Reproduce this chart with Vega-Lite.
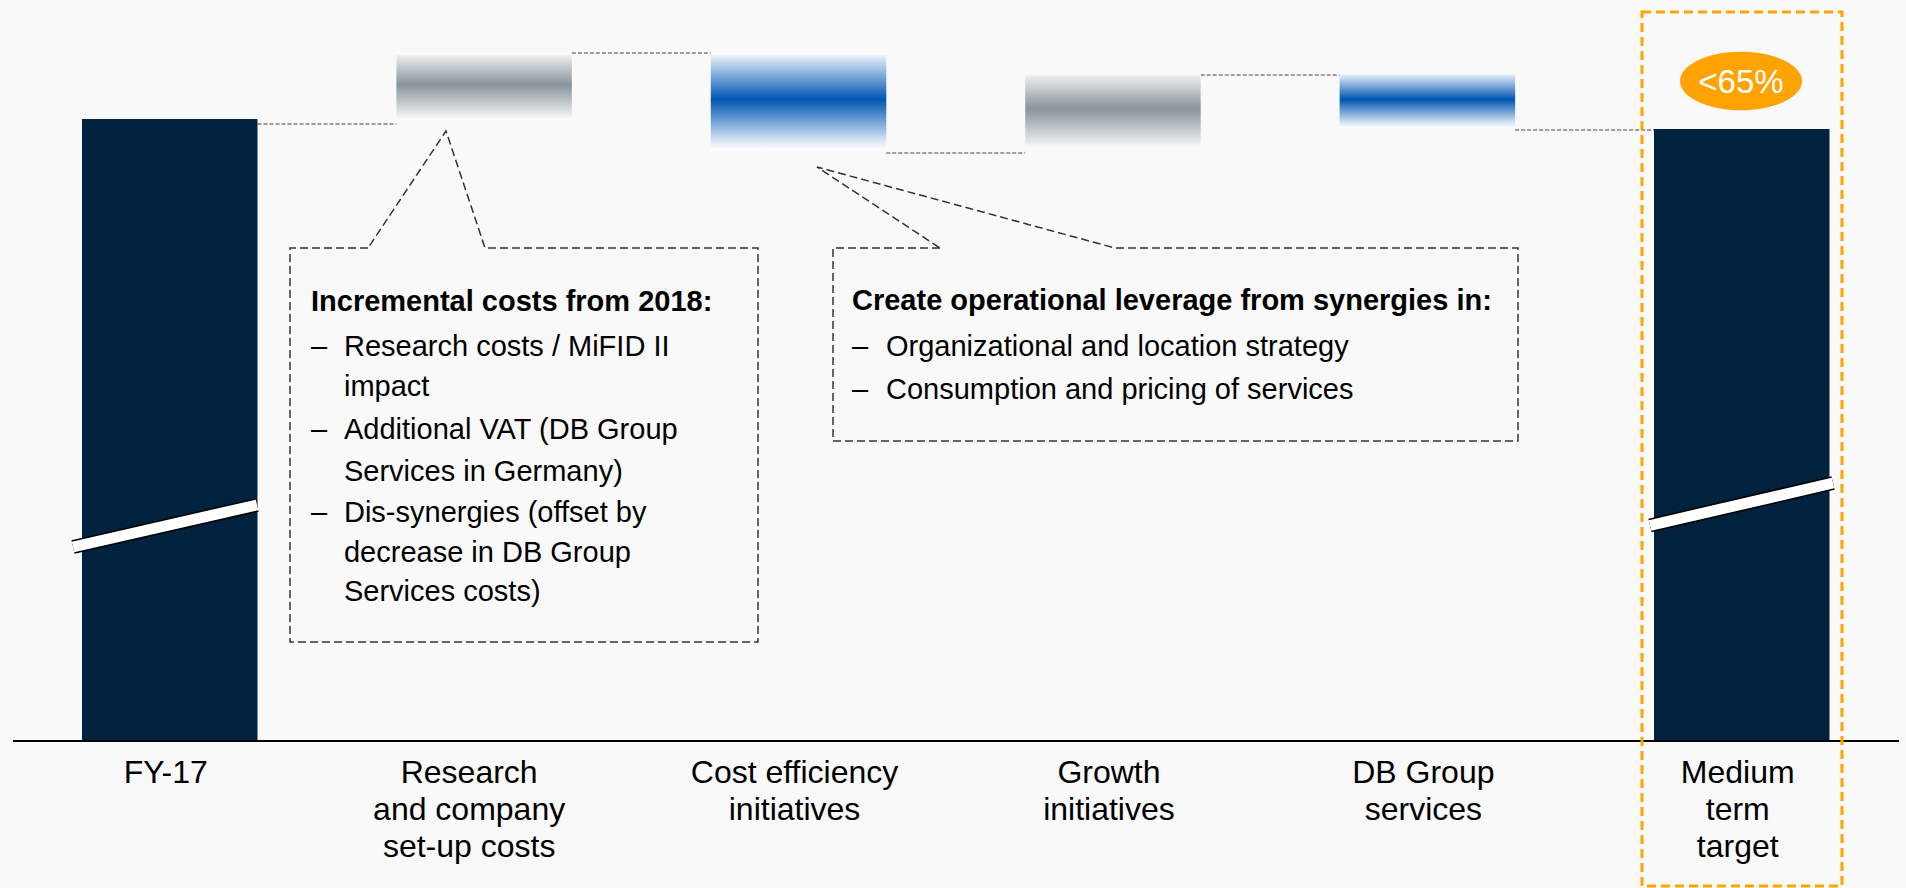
{
  "$schema": "https://vega.github.io/schema/vega-lite/v6.json",
  "width": 1906,
  "height": 741,
  "autosize": {"type": "none"},
  "padding": {"left": 0, "top": 0, "right": 0, "bottom": 147},
  "background": "#f9f9f9",
  "config": {"view": {"stroke": null}, "font": "Liberation Sans"},
  "datasets": {
    "bars": [
      {"category": "FY-17", "start": 0, "end": 622, "kind": "total"},
      {"category": "Research\nand company\nset-up costs", "start": 621, "end": 688, "kind": "gray"},
      {"category": "Cost efficiency\ninitiatives", "start": 688, "end": 591, "kind": "blue"},
      {"category": "Growth\ninitiatives", "start": 592, "end": 668, "kind": "gray"},
      {"category": "DB Group\nservices", "start": 668, "end": 613, "kind": "blue"},
      {"category": "Medium\nterm\ntarget", "start": 0, "end": 612, "kind": "total"}
    ],
    "connectors": [
      {"from": "FY-17", "to": "Research\nand company\nset-up costs", "level": 617},
      {"from": "Research\nand company\nset-up costs", "to": "Cost efficiency\ninitiatives", "level": 688},
      {"from": "Cost efficiency\ninitiatives", "to": "Growth\ninitiatives", "level": 588},
      {"from": "Growth\ninitiatives", "to": "DB Group\nservices", "level": 666},
      {"from": "DB Group\nservices", "to": "Medium\nterm\ntarget", "level": 611}
    ],
    "baseline": [
      {"u1": -0.4978, "u2": 5.501, "v": 0}
    ],
    "callouts": [
      {"box": 1, "i": 0, "u": 0.6314, "v": 493},
      {"box": 1, "i": 1, "u": 0.3833, "v": 493},
      {"box": 1, "i": 2, "u": 0.3833, "v": 99},
      {"box": 1, "i": 3, "u": 1.8718, "v": 99},
      {"box": 1, "i": 4, "u": 1.8718, "v": 493},
      {"box": 1, "i": 5, "u": 1.0035, "v": 493},
      {"box": 1, "i": 6, "u": 0.8795, "v": 610},
      {"box": 1, "i": 7, "u": 0.6314, "v": 493},
      {"box": 2, "i": 0, "u": 2.4507, "v": 493},
      {"box": 2, "i": 1, "u": 2.1104, "v": 493},
      {"box": 2, "i": 2, "u": 2.1104, "v": 300},
      {"box": 2, "i": 3, "u": 4.2891, "v": 300},
      {"box": 2, "i": 4, "u": 4.2891, "v": 493},
      {"box": 2, "i": 5, "u": 3.0073, "v": 493},
      {"box": 2, "i": 6, "u": 2.0595, "v": 574},
      {"box": 2, "i": 7, "u": 2.4507, "v": 493}
    ],
    "breaks": [
      {"bar": "FY-17", "u": -0.3069, "v": 194},
      {"bar": "FY-17", "u": 0.2783, "v": 236},
      {"bar": "Medium", "u": 4.709, "v": 215.5},
      {"bar": "Medium", "u": 5.291, "v": 258}
    ],
    "notes": [
      {"role": "header", "u": 0.45, "v": 439, "text": "Incremental costs from 2018:"},
      {"role": "body", "u": 0.45, "v": 394, "text": "–"},
      {"role": "body", "u": 0.555, "v": 394, "text": "Research costs / MiFID II"},
      {"role": "body", "u": 0.555, "v": 354, "text": "impact"},
      {"role": "body", "u": 0.45, "v": 311, "text": "–"},
      {"role": "body", "u": 0.555, "v": 311, "text": "Additional VAT (DB Group"},
      {"role": "body", "u": 0.555, "v": 269, "text": "Services in Germany)"},
      {"role": "body", "u": 0.45, "v": 228, "text": "–"},
      {"role": "body", "u": 0.555, "v": 228, "text": "Dis-synergies (offset by"},
      {"role": "body", "u": 0.555, "v": 188, "text": "decrease in DB Group"},
      {"role": "body", "u": 0.555, "v": 149, "text": "Services costs)"},
      {"role": "header", "u": 2.1708, "v": 440, "text": "Create operational leverage from synergies in:"},
      {"role": "body", "u": 2.1708, "v": 394, "text": "–"},
      {"role": "body", "u": 2.279, "v": 394, "text": "Organizational and location strategy"},
      {"role": "body", "u": 2.1708, "v": 351, "text": "–"},
      {"role": "body", "u": 2.279, "v": 351, "text": "Consumption and pricing of services"}
    ],
    "target": [
      {"u1": 4.6835, "u2": 5.3196, "v1": 729, "v2": -145, "uc": 4.9984, "vc": 660, "label": "<65%"}
    ]
  },
  "resolve": {"scale": {"x": "independent"}},
  "layer": [
    {
      "layer": [
        {
          "data": {"name": "connectors"},
          "mark": {"type": "rule", "stroke": "#444444", "strokeWidth": 1.2, "strokeDash": [4, 2]},
          "encoding": {
            "x": {"field": "from", "type": "nominal", "bandPosition": 1},
            "x2": {"field": "to", "bandPosition": 0},
            "y": {"field": "level", "type": "quantitative", "scale": {"domain": [0, 741], "nice": false, "zero": false}, "axis": null}
          }
        },
        {
          "data": {"name": "bars"},
          "transform": [{"filter": "datum.kind == 'total'"}],
          "mark": {"type": "bar", "color": "#00223F"},
          "encoding": {
            "x": {"field": "category", "type": "nominal"},
            "y": {"field": "start", "type": "quantitative", "scale": {"domain": [0, 741], "nice": false, "zero": false}, "axis": null},
            "y2": {"field": "end"}
          }
        },
        {
          "data": {"name": "bars"},
          "transform": [{"filter": "datum.kind == 'gray'"}],
          "mark": {"type": "bar", "color": {"gradient": "linear", "x1": 0, "y1": 0, "x2": 0, "y2": 1, "stops": [
            {"offset": 0, "color": "#ffffff"},
            {"offset": 0.06, "color": "#e6e9eb"},
            {"offset": 0.47, "color": "#89949b"},
            {"offset": 0.9, "color": "#e4e7e9"},
            {"offset": 1, "color": "#ffffff"}]}},
          "encoding": {
            "x": {"field": "category", "type": "nominal"},
            "y": {"field": "start", "type": "quantitative"},
            "y2": {"field": "end"}
          }
        },
        {
          "data": {"name": "bars"},
          "transform": [{"filter": "datum.kind == 'blue'"}],
          "mark": {"type": "bar", "color": {"gradient": "linear", "x1": 0, "y1": 0, "x2": 0, "y2": 1, "stops": [
            {"offset": 0, "color": "#ffffff"},
            {"offset": 0.06, "color": "#d6e4f4"},
            {"offset": 0.48, "color": "#0055b3"},
            {"offset": 0.9, "color": "#d6e4f4"},
            {"offset": 1, "color": "#ffffff"}]}},
          "encoding": {
            "x": {
              "field": "category", "type": "nominal",
              "scale": {
                "domain": ["FY-17", "Research\nand company\nset-up costs", "Cost efficiency\ninitiatives", "Growth\ninitiatives", "DB Group\nservices", "Medium\nterm\ntarget"],
                "range": [0, 1911.5], "paddingInner": 0.4418, "paddingOuter": 0.2608
              },
              "axis": {
                "title": null, "orient": "bottom", "domain": false,
                "ticks": false, "grid": false, "labelAngle": 0, "labelFont": "Liberation Sans",
                "labelFontSize": 32, "labelColor": "#000000", "labelPadding": 16, "labelLineHeight": 37,
                "labelAlign": "center", "labelLimit": 0,
                "labelOffset": {"condition": {"test": "indexof(datum.value, 'Research') == 0", "value": -15}, "value": -4},
                "labelBaseline": "top", "labelOverlap": false, "labelBound": false, "labelFlush": false,
                "labelExpr": "split(datum.label, '\\n')"
              }
            },
            "y": {"field": "start", "type": "quantitative"},
            "y2": {"field": "end"}
          }
        }
      ]
    },
    {
      "layer": [
        {
          "data": {"name": "baseline"},
          "mark": {"type": "rule", "stroke": "#000000", "strokeWidth": 2},
          "encoding": {
            "x": {"field": "u1", "type": "quantitative", "scale": {"domain": [-0.5391, 5.5232], "nice": false, "zero": false}, "axis": null},
            "x2": {"field": "u2"},
            "y": {"field": "v", "type": "quantitative", "scale": {"domain": [0, 741], "nice": false, "zero": false}, "axis": null}
          }
        },
        {
          "data": {"name": "breaks"},
          "mark": {"type": "line", "stroke": "#000000", "strokeWidth": 14, "strokeCap": "butt"},
          "encoding": {
            "x": {"field": "u", "type": "quantitative"},
            "y": {"field": "v", "type": "quantitative"},
            "detail": {"field": "bar"}
          }
        },
        {
          "data": {"name": "breaks"},
          "mark": {"type": "line", "stroke": "#ffffff", "strokeWidth": 11, "strokeCap": "butt"},
          "encoding": {
            "x": {"field": "u", "type": "quantitative"},
            "y": {"field": "v", "type": "quantitative"},
            "detail": {"field": "bar"}
          }
        },
        {
          "data": {"name": "callouts"},
          "mark": {"type": "line", "stroke": "#333333", "strokeWidth": 1.5, "strokeDash": [8, 4]},
          "encoding": {
            "x": {"field": "u", "type": "quantitative"},
            "y": {"field": "v", "type": "quantitative"},
            "detail": {"field": "box"},
            "order": {"field": "i"}
          }
        },
        {
          "data": {"name": "notes"},
          "transform": [{"filter": "datum.role == 'header'"}],
          "mark": {"type": "text", "align": "left", "baseline": "middle", "font": "Liberation Sans", "fontSize": 29, "fontWeight": "bold", "color": "#000000"},
          "encoding": {
            "x": {"field": "u", "type": "quantitative"},
            "y": {"field": "v", "type": "quantitative"},
            "text": {"field": "text"}
          }
        },
        {
          "data": {"name": "notes"},
          "transform": [{"filter": "datum.role == 'body'"}],
          "mark": {"type": "text", "align": "left", "baseline": "middle", "font": "Liberation Sans", "fontSize": 29, "color": "#000000"},
          "encoding": {
            "x": {"field": "u", "type": "quantitative"},
            "y": {"field": "v", "type": "quantitative"},
            "text": {"field": "text"}
          }
        },
        {
          "data": {"name": "target"},
          "mark": {"type": "rect", "fill": "transparent", "stroke": "#FFA300", "strokeWidth": 3, "strokeDash": [9, 5]},
          "encoding": {
            "x": {"field": "u1", "type": "quantitative"},
            "x2": {"field": "u2"},
            "y": {"field": "v1", "type": "quantitative"},
            "y2": {"field": "v2"}
          }
        },
        {
          "data": {"name": "target"},
          "mark": {"type": "point", "filled": true, "opacity": 1, "color": "#FFA300", "size": 14884, "shape": "M-1,0A1,0.48,0,1,1,1,0A1,0.48,0,1,1,-1,0Z", "strokeWidth": 0},
          "encoding": {
            "x": {"field": "uc", "type": "quantitative"},
            "y": {"field": "vc", "type": "quantitative"}
          }
        },
        {
          "data": {"name": "target"},
          "mark": {"type": "text", "align": "center", "baseline": "middle", "font": "Liberation Sans", "fontSize": 33, "color": "#ffffff", "dy": 2},
          "encoding": {
            "x": {"field": "uc", "type": "quantitative"},
            "y": {"field": "vc", "type": "quantitative"},
            "text": {"field": "label"}
          }
        }
      ]
    }
  ]
}
